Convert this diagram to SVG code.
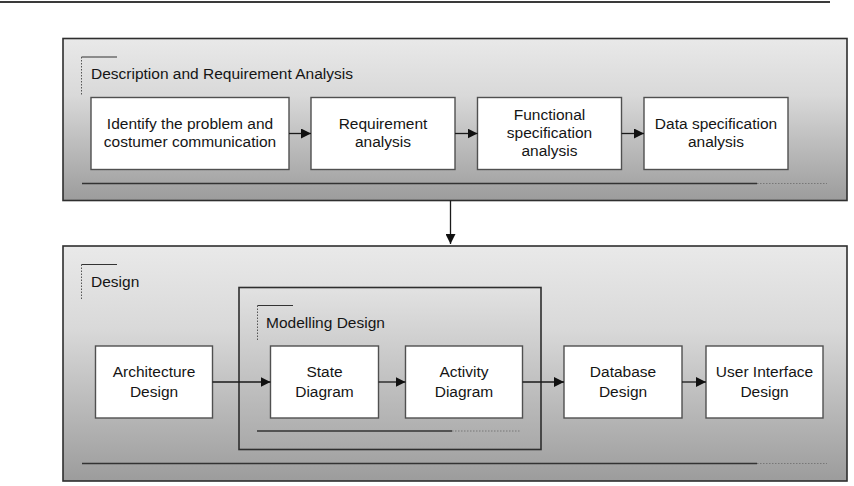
<svg xmlns="http://www.w3.org/2000/svg" width="854" height="486" viewBox="0 0 854 486">
<defs>
<linearGradient id="gOuter" x1="0" y1="0" x2="0" y2="1">
<stop offset="0" stop-color="#e9e9e9"/>
<stop offset="0.35" stop-color="#d9d9d9"/>
<stop offset="1" stop-color="#9c9c9c"/>
</linearGradient>
<linearGradient id="gInner" x1="0" y1="0" x2="0" y2="1">
<stop offset="0" stop-color="#e2e2e2"/>
<stop offset="1" stop-color="#a9a9a9"/>
</linearGradient>
<marker id="ah" viewBox="0 0 10 10" refX="10" refY="5" markerWidth="10" markerHeight="10" markerUnits="userSpaceOnUse" orient="auto">
<path d="M0,0 L10,5 L0,10 Z" fill="#111"/>
</marker>
<style>
.frame{stroke:#2e2e2e;stroke-width:1.6}
.node{fill:#fff;stroke:#505050;stroke-width:1.4}
.t{font-family:"Liberation Sans",Arial,sans-serif;font-size:15.5px;fill:#151515;text-anchor:middle}
.lbl{font-family:"Liberation Sans",Arial,sans-serif;font-size:15.5px;fill:#151515}
.tick{stroke:#333;stroke-width:1}
.dot{stroke:#555;stroke-width:1;stroke-dasharray:1.5 1.5}
.sol{stroke:#333;stroke-width:1.4}
.dsh{stroke:#777;stroke-width:1;stroke-dasharray:1.5 1.5}
.conn{stroke:#1a1a1a;stroke-width:1.3;fill:none}
</style>
</defs>
<line x1="0" y1="2" x2="830" y2="2" stroke="#3a3a3a" stroke-width="2"/>

<g id="phase1">
<rect class="frame" x="63" y="38.5" width="784" height="162" fill="url(#gOuter)"/>
<line class="tick" x1="81.5" y1="57" x2="117" y2="57"/>
<line class="dot" x1="81.5" y1="57" x2="81.5" y2="95"/>
<text class="lbl" x="91" y="79">Description and Requirement Analysis</text>
<line class="sol" x1="82" y1="183.5" x2="757" y2="183.5"/>
<line class="dsh" x1="757" y1="183.5" x2="827" y2="183.5"/>
</g>

<g id="phase2">
<rect class="frame" x="63" y="246" width="784" height="235" fill="url(#gOuter)"/>
<line class="tick" x1="81.5" y1="264.5" x2="117" y2="264.5"/>
<line class="dot" x1="81.5" y1="264.5" x2="81.5" y2="300"/>
<text class="lbl" x="91" y="287">Design</text>
<line class="sol" x1="82" y1="463.5" x2="757" y2="463.5"/>
<line class="dsh" x1="757" y1="463.5" x2="827" y2="463.5"/>
</g>

<g id="modelling">
<rect class="frame" x="239" y="287.5" width="302" height="162" fill="url(#gInner)"/>
<line class="tick" x1="257.5" y1="305.5" x2="293" y2="305.5"/>
<line class="dot" x1="257.5" y1="305.5" x2="257.5" y2="341"/>
<text class="lbl" x="266" y="328">Modelling Design</text>
<line class="sol" x1="257" y1="431" x2="452" y2="431"/>
<line class="dsh" x1="452" y1="431" x2="521" y2="431"/>
</g>

<g id="n-identify">
<rect class="node" x="91" y="97.5" width="198" height="72"/>
<text class="t" x="190" y="129">Identify the problem and</text>
<text class="t" x="190" y="147">costumer communication</text>
</g>
<g id="n-requirement">
<rect class="node" x="311" y="97.5" width="144" height="72"/>
<text class="t" x="383" y="129">Requirement</text>
<text class="t" x="383" y="147">analysis</text>
</g>
<g id="n-functional">
<rect class="node" x="477.5" y="97.5" width="144" height="72"/>
<text class="t" x="549.5" y="120">Functional</text>
<text class="t" x="549.5" y="138">specification</text>
<text class="t" x="549.5" y="156">analysis</text>
</g>
<g id="n-data">
<rect class="node" x="644" y="97.5" width="144" height="72"/>
<text class="t" x="716" y="129">Data specification</text>
<text class="t" x="716" y="147">analysis</text>
</g>

<g id="n-architecture">
<rect class="node" x="95.5" y="346" width="117" height="72"/>
<text class="t" x="154" y="377">Architecture</text>
<text class="t" x="154" y="396.5">Design</text>
</g>
<g id="n-state">
<rect class="node" x="270.5" y="346" width="108" height="72"/>
<text class="t" x="324.5" y="377">State</text>
<text class="t" x="324.5" y="396.5">Diagram</text>
</g>
<g id="n-activity">
<rect class="node" x="405.5" y="346" width="117" height="72"/>
<text class="t" x="464" y="377">Activity</text>
<text class="t" x="464" y="396.5">Diagram</text>
</g>
<g id="n-database">
<rect class="node" x="564" y="346" width="118" height="72"/>
<text class="t" x="623" y="377">Database</text>
<text class="t" x="623" y="396.5">Design</text>
</g>
<g id="n-ui">
<rect class="node" x="706" y="346" width="117" height="72"/>
<text class="t" x="764.5" y="377">User Interface</text>
<text class="t" x="764.5" y="396.5">Design</text>
</g>

<g id="connectors">
<line class="conn" x1="289" y1="133.5" x2="311" y2="133.5" marker-end="url(#ah)"/>
<line class="conn" x1="455" y1="133.5" x2="477.5" y2="133.5" marker-end="url(#ah)"/>
<line class="conn" x1="621.5" y1="133.5" x2="644" y2="133.5" marker-end="url(#ah)"/>
<line class="conn" x1="450.5" y1="200.5" x2="450.5" y2="244" marker-end="url(#ah)"/>
<line class="conn" x1="212.5" y1="382" x2="270.5" y2="382" marker-end="url(#ah)"/>
<line class="conn" x1="378.5" y1="382" x2="405.5" y2="382" marker-end="url(#ah)"/>
<line class="conn" x1="522.5" y1="382" x2="564" y2="382" marker-end="url(#ah)"/>
<line class="conn" x1="682" y1="382" x2="706" y2="382" marker-end="url(#ah)"/>
</g>
</svg>
